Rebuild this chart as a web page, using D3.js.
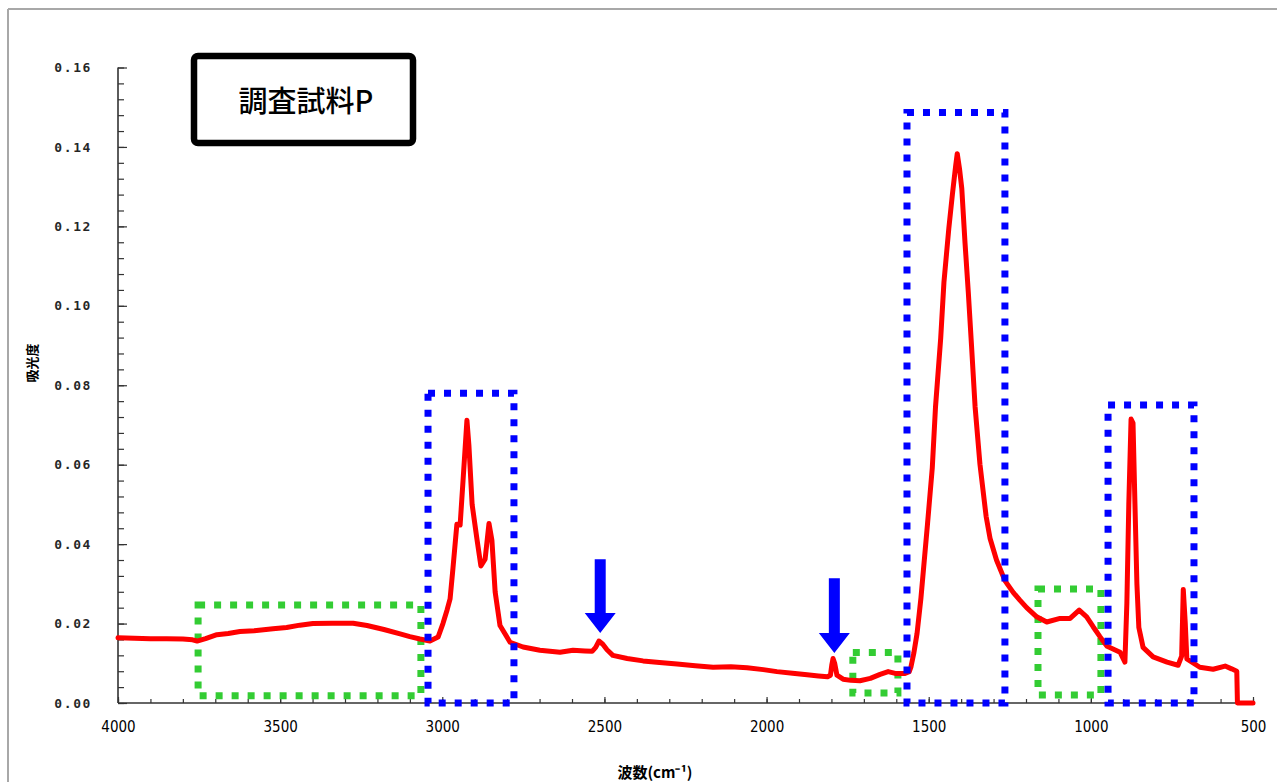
<!DOCTYPE html>
<html>
<head>
<meta charset="utf-8">
<script src="https://cdn.jsdelivr.net/npm/d3@7/dist/d3.min.js"></script>
<style>
  html, body { margin: 0; padding: 0; background: #ffffff; }
  svg { display: block; }
</style>
</head>
<body>
<svg id="chart" width="1277" height="782"></svg>
<script>
// ---- data ----
const title = "調査試料P";
const xAxisTitle = "波数(cm⁻¹)";
const yAxisTitle = "吸光度";

const wavenumbers = [4000, 3950, 3900, 3850, 3800, 3770, 3756, 3730, 3695, 3660, 3624, 3580, 3522, 3480, 3439, 3399, 3340, 3275, 3232, 3180, 3130, 3100, 3069, 3038, 3013, 2998, 2985, 2976, 2967, 2955, 2945, 2936, 2924, 2918, 2908, 2893, 2881, 2868, 2856, 2847, 2837, 2822, 2791, 2751, 2699, 2637, 2597, 2560, 2538, 2527, 2517, 2505, 2492, 2474, 2430, 2381, 2330, 2276, 2220, 2165, 2110, 2060, 2010, 1968, 1920, 1875, 1840, 1812, 1803, 1799, 1795, 1790, 1783, 1764, 1740, 1712, 1680, 1650, 1625, 1600, 1575, 1560, 1555, 1546, 1536, 1524, 1504, 1489, 1479, 1463, 1453, 1438, 1427, 1417, 1412, 1405, 1398, 1388, 1378, 1368, 1357, 1342, 1323, 1311, 1291, 1265, 1239, 1219, 1198, 1167, 1136, 1095, 1064, 1036, 1013, 993, 972, 950, 910, 895, 889, 883, 876, 870, 864, 858, 852, 839, 808, 765, 731, 720, 715, 709, 704, 664, 623, 586, 566, 550, 548, 500];
const absorbance = [0.0164, 0.0163, 0.0162, 0.0162, 0.0161, 0.0159, 0.0156, 0.0162, 0.0172, 0.0175, 0.0180, 0.0182, 0.0187, 0.0190, 0.0196, 0.0200, 0.0201, 0.0201, 0.0195, 0.0185, 0.0174, 0.0167, 0.0161, 0.0156, 0.0166, 0.0200, 0.0235, 0.0262, 0.0340, 0.0450, 0.0448, 0.0560, 0.0712, 0.0650, 0.0500, 0.0412, 0.0345, 0.0362, 0.0452, 0.0410, 0.0280, 0.0195, 0.0153, 0.0141, 0.0133, 0.0128, 0.0133, 0.0131, 0.0130, 0.0140, 0.0156, 0.0148, 0.0134, 0.0120, 0.0112, 0.0106, 0.0102, 0.0098, 0.0094, 0.0090, 0.0091, 0.0089, 0.0084, 0.0079, 0.0075, 0.0071, 0.0068, 0.0066, 0.0070, 0.0095, 0.0112, 0.0100, 0.0070, 0.0060, 0.0057, 0.0056, 0.0062, 0.0072, 0.0079, 0.0074, 0.0074, 0.0079, 0.0090, 0.0125, 0.0175, 0.0264, 0.0448, 0.0592, 0.0746, 0.0919, 0.1060, 0.1195, 0.1280, 0.1352, 0.1383, 0.1345, 0.1295, 0.1158, 0.1035, 0.0900, 0.0746, 0.0601, 0.0470, 0.0415, 0.0360, 0.0308, 0.0278, 0.0259, 0.0240, 0.0217, 0.0204, 0.0213, 0.0213, 0.0234, 0.0217, 0.0192, 0.0167, 0.0143, 0.0128, 0.0103, 0.0250, 0.0500, 0.0715, 0.0705, 0.0500, 0.0300, 0.0190, 0.0140, 0.0116, 0.0103, 0.0095, 0.0118, 0.0286, 0.0203, 0.0111, 0.0090, 0.0085, 0.0093, 0.0086, 0.0080, 0.0000, 0.0000];

const xTickValues = [4000, 3500, 3000, 2500, 2000, 1500, 1000, 500];
const xTickLabels = ["4000", "3500", "3000", "2500", "2000", "1500", "1000", "500"];
const yTickValues = [0.00, 0.02, 0.04, 0.06, 0.08, 0.10, 0.12, 0.14, 0.16];
const yTickLabels = ["0.00", "0.02", "0.04", "0.06", "0.08", "0.10", "0.12", "0.14", "0.16"];

// annotation boxes: [wavenumber left, wavenumber right, absorbance top, absorbance bottom]
const blueBoxes = [[3044, 2779, 0.078, 0.0], [1567, 1265, 0.1487, 0.0], [947, 682, 0.075, 0.0]];
const greenBoxes = [[3753, 3066, 0.0247, 0.0018], [1734, 1595, 0.0127, 0.0025], [1163, 969, 0.0287, 0.002]];
// arrows: wavenumber, absorbance at top of shaft, absorbance at tip
const arrowWn = [2513, 1791];
const arrowTop = [0.0362, 0.0314];
const arrowTip = [0.0176, 0.0126];

// ---- drawing ----
const svg = d3.select("#chart");
const x = d3.scaleLinear().domain([4000, 500]).range([118, 1253]);
const y = d3.scaleLinear().domain([0, 0.16]).range([703, 67.5]);

// outer frame
svg.append("line").attr("x1", 8).attr("x2", 1277).attr("y1", 9).attr("y2", 9)
  .attr("stroke", "#a8a8a8").attr("stroke-width", 2);
svg.append("line").attr("x1", 8).attr("x2", 8).attr("y1", 9).attr("y2", 782)
  .attr("stroke", "#a8a8a8").attr("stroke-width", 2);

// minor ticks
svg.append("g").attr("transform", "translate(118,0)")
  .call(d3.axisLeft(y).tickValues(d3.range(0, 0.1601, 0.004)).tickSize(-6).tickFormat(""))
  .call(g => g.select(".domain").remove())
  .selectAll("line").attr("stroke", "#333").attr("stroke-width", 1.2);
svg.append("g").attr("transform", "translate(0,703)")
  .call(d3.axisBottom(x).tickValues(d3.range(500, 4001, 100)).tickSize(-4).tickFormat(""))
  .call(g => g.select(".domain").remove())
  .selectAll("line").attr("stroke", "#333").attr("stroke-width", 1.2);

// major y axis
const yAxis = svg.append("g").attr("transform", "translate(118,0)")
  .call(d3.axisLeft(y).tickValues(yTickValues).tickSize(-9).tickPadding(26)
    .tickFormat((d, i) => yTickLabels[i]));
yAxis.select(".domain").attr("stroke", "#333").attr("stroke-width", 1.6)
  .attr("d", `M0,${y(0.16)}V${y(0)}`);
yAxis.selectAll("line").attr("stroke", "#333").attr("stroke-width", 1.2);
yAxis.selectAll("text").attr("font-family", "'DejaVu Sans Mono', monospace")
  .attr("font-size", 13).attr("letter-spacing", "1.6px").attr("fill", "#000")
  .attr("font-weight", "bold").attr("opacity", 0.85);

// major x axis
const xAxis = svg.append("g").attr("transform", "translate(0,703)")
  .call(d3.axisBottom(x).tickValues(xTickValues).tickSize(-6).tickPadding(18)
    .tickFormat((d, i) => xTickLabels[i]));
xAxis.select(".domain").attr("stroke", "#333").attr("stroke-width", 1.6)
  .attr("d", `M${x(4000)},0H${x(500)}`);
xAxis.selectAll("line").attr("stroke", "#333").attr("stroke-width", 1.2);
xAxis.selectAll("text").attr("font-family", "'Liberation Sans Narrow', 'DejaVu Sans Condensed', sans-serif")
  .attr("font-size", 15).attr("fill", "#000");

// axis titles
svg.append("text").attr("x", 655).attr("y", 771).attr("text-anchor", "middle")
  .attr("dominant-baseline", "central")
  .attr("font-family", "'Noto Sans CJK JP', sans-serif").attr("font-weight", "bold")
  .attr("font-size", 15).text(xAxisTitle);
svg.append("text").attr("transform", "translate(31,363) rotate(-90)").attr("text-anchor", "middle")
  .attr("dominant-baseline", "central")
  .attr("font-family", "'Noto Sans CJK JP', sans-serif").attr("font-weight", "bold")
  .attr("font-size", 13).text(yAxisTitle);

// dotted boxes
function drawBoxes(boxes, color) {
  svg.append("g").selectAll("rect").data(boxes).join("rect")
    .attr("x", d => x(d[0])).attr("y", d => y(d[2]))
    .attr("width", d => x(d[1]) - x(d[0])).attr("height", d => y(d[3]) - y(d[2]))
    .attr("fill", "none").attr("stroke", color).attr("stroke-width", 7)
    .attr("stroke-dasharray", "7,9");
}

// spectrum
const pts = wavenumbers.map((w, i) => [w, absorbance[i]]);
const line = d3.line().x(d => x(d[0])).y(d => y(d[1]));

drawBoxes(greenBoxes, "#33cc33");
svg.append("path").datum(pts).attr("d", line).attr("fill", "none")
  .attr("stroke", "#ff0000").attr("stroke-width", 5)
  .attr("stroke-linejoin", "round").attr("stroke-linecap", "round");
drawBoxes(blueBoxes, "#0000ff");

// arrows
svg.append("g").selectAll("path").data(arrowWn).join("path")
  .attr("d", (w, i) => {
    const cx = x(w), t = y(arrowTop[i]), tip = y(arrowTip[i]), hb = tip - 20;
    return `M${cx - 5.5},${t}H${cx + 5.5}V${hb}H${cx + 15.5}L${cx},${tip}L${cx - 15.5},${hb}H${cx - 5.5}Z`;
  })
  .attr("fill", "#0000ff");

// title box
svg.append("rect").attr("x", 194).attr("y", 56).attr("width", 219).attr("height", 87)
  .attr("rx", 4).attr("fill", "#fff").attr("stroke", "#000").attr("stroke-width", 6.5);
svg.append("text").attr("x", 306).attr("y", 99).attr("text-anchor", "middle")
  .attr("dominant-baseline", "central")
  .attr("font-family", "'Noto Sans CJK JP', sans-serif").attr("font-size", 29)
  .attr("font-weight", 500)
  .text(title);
</script>
</body>
</html>
